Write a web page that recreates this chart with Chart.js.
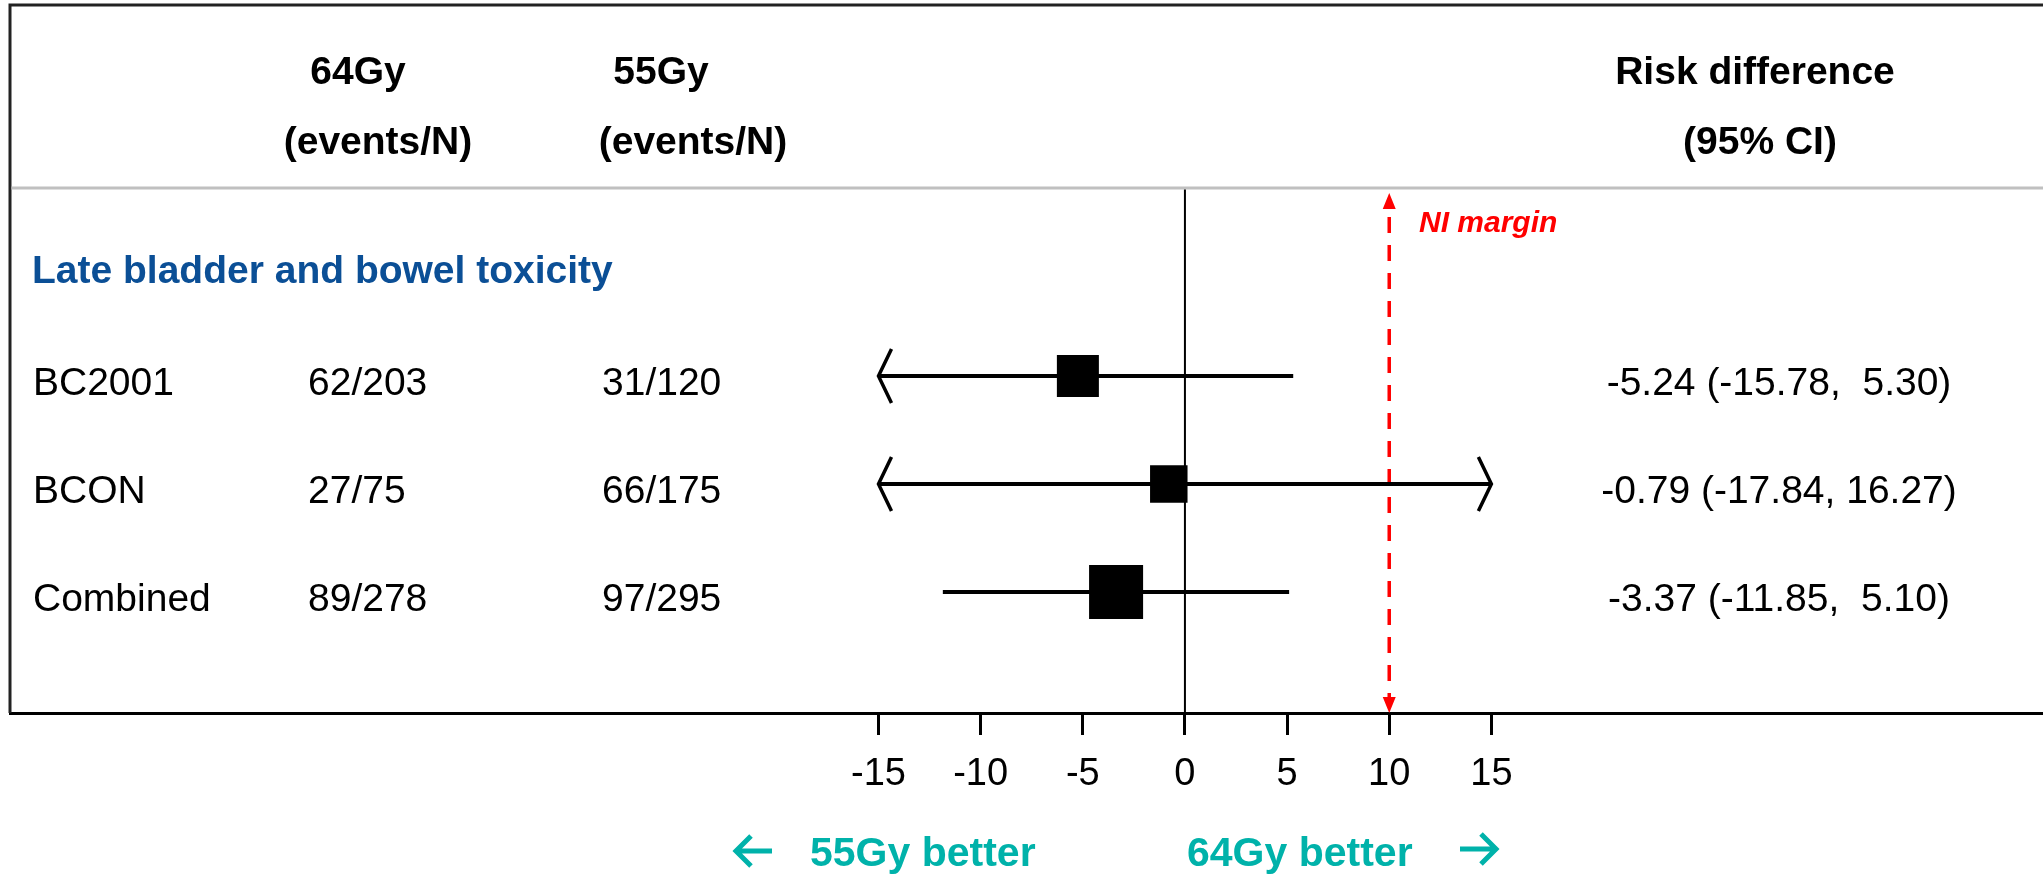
<!DOCTYPE html>
<html lang="en">
<head>
<meta charset="UTF-8">
<title>Late bladder and bowel toxicity - forest plot</title>
<script src="https://cdn.jsdelivr.net/npm/chart.js"></script>
<style>
    body { margin: 0; background: #fff; }
    #wrap { width: 2043px; height: 874px; position: relative; }
</style>
</head>
<body>
<div id="wrap"><canvas id="forestChart"></canvas></div>
<script>
    // data
    const studies = ['BC2001', 'BCON', 'Combined'];
    const events64 = ['62/203', '27/75', '89/278'];
    const events55 = ['31/120', '66/175', '97/295'];
    const riskDiff = [-5.24, -0.79, -3.37];
    const ciLower = [-15.78, -17.84, -11.85];
    const ciUpper = [5.30, 16.27, 5.10];
    const xTicks = [-15, -10, -5, 0, 5, 10, 15];
    const niMargin = 10;
    const axisLimit = 15;

    const FONT = '"Liberation Sans", Arial, sans-serif';
    const BLUE = '#0b4f96';
    const TEAL = '#00b2aa';
    const RULE_Y = 188;

    function clip(v) { return Math.max(-axisLimit, Math.min(axisLimit, v)); }
    function ciLabel(i) {
        return riskDiff[i].toFixed(2) + ' (' + ciLower[i].toFixed(2) + ', ' + ciUpper[i].toFixed(2).padStart(5) + ')';
    }

    const ciSets = studies.map((s, i) => ({
        type: 'line',
        label: s + ' CI',
        data: [{ x: clip(ciLower[i]), y: i }, { x: clip(ciUpper[i]), y: i }],
        borderColor: '#000',
        borderWidth: 4,
        pointRadius: 0,
        order: 2
    }));

    const pointSet = {
        type: 'scatter',
        label: 'Risk difference',
        data: riskDiff.map((v, i) => ({ x: v, y: i })),
        pointStyle: 'rect',
        pointRadius: [29.7, 26.5, 38.2],
        backgroundColor: '#000',
        borderWidth: 0,
        order: 0
    };

    function text(ctx, str, x, y, font, color, align) {
        ctx.font = font;
        ctx.fillStyle = color;
        ctx.textAlign = align || 'left';
        ctx.textBaseline = 'alphabetic';
        ctx.fillText(str, x, y);
    }

    // small teal arrow next to the direction labels
    function arrow(ctx, cx, cy, dir) {
        ctx.save();
        ctx.strokeStyle = TEAL;
        ctx.lineWidth = 5;
        ctx.lineJoin = 'miter';
        const tip = cx + dir * 18, tail = cx - dir * 18;
        ctx.beginPath();
        ctx.moveTo(tail, cy); ctx.lineTo(tip - dir * 2, cy);
        ctx.moveTo(tip - dir * 15, cy - 15); ctx.lineTo(tip, cy); ctx.lineTo(tip - dir * 15, cy + 15);
        ctx.stroke();
        ctx.restore();
    }

    const forestPlugin = {
        id: 'forest',
        beforeDatasetsDraw(chart) {
            const { ctx, chartArea: a, scales: { x } } = chart;
            ctx.save();
            // frame
            ctx.strokeStyle = '#222';
            ctx.lineWidth = 3;
            ctx.beginPath();
            ctx.moveTo(a.right, a.top);
            ctx.lineTo(a.left, a.top);
            ctx.lineTo(a.left, a.bottom);
            ctx.stroke();
            // header rule
            ctx.strokeStyle = '#c0c0c0';
            ctx.beginPath();
            ctx.moveTo(a.left + 1.5, RULE_Y);
            ctx.lineTo(a.right, RULE_Y);
            ctx.stroke();
            // line of no effect
            const x0 = x.getPixelForValue(0);
            ctx.strokeStyle = '#000';
            ctx.lineWidth = 2;
            ctx.beginPath();
            ctx.moveTo(x0, RULE_Y + 1.5);
            ctx.lineTo(x0, a.bottom);
            ctx.stroke();
            // NI margin
            const xn = x.getPixelForValue(niMargin);
            ctx.strokeStyle = '#ff0000';
            ctx.fillStyle = '#ff0000';
            ctx.lineWidth = 3.5;
            ctx.setLineDash([16, 12]);
            ctx.beginPath();
            ctx.moveTo(xn, 217);
            ctx.lineTo(xn, a.bottom - 14);
            ctx.stroke();
            ctx.setLineDash([]);
            ctx.beginPath();
            ctx.moveTo(xn, 193); ctx.lineTo(xn - 6.5, 209); ctx.lineTo(xn + 6.5, 209); ctx.closePath();
            ctx.moveTo(xn, a.bottom); ctx.lineTo(xn - 6.5, a.bottom - 16); ctx.lineTo(xn + 6.5, a.bottom - 16); ctx.closePath();
            ctx.fill();
            ctx.restore();
        },
        afterDatasetsDraw(chart) {
            const { ctx, scales: { x, y } } = chart;
            ctx.save();
            ctx.strokeStyle = '#000';
            ctx.lineWidth = 3.5;
            studies.forEach((s, i) => {
                const py = y.getPixelForValue(i);
                if (ciLower[i] < -axisLimit) {
                    const px = x.getPixelForValue(-axisLimit);
                    ctx.beginPath();
                    ctx.moveTo(px + 13, py - 27); ctx.lineTo(px, py); ctx.lineTo(px + 13, py + 27);
                    ctx.stroke();
                }
                if (ciUpper[i] > axisLimit) {
                    const px = x.getPixelForValue(axisLimit);
                    ctx.beginPath();
                    ctx.moveTo(px - 13, py - 27); ctx.lineTo(px, py); ctx.lineTo(px - 13, py + 27);
                    ctx.stroke();
                }
            });
            ctx.restore();
        },
        afterDraw(chart) {
            const { ctx, scales: { x, y } } = chart;
            ctx.save();
            const bold = 'bold 39px ' + FONT;
            const reg = '39px ' + FONT;
            // column headers
            text(ctx, '64Gy', 358, 84, bold, '#000', 'center');
            text(ctx, '(events/N)', 378, 154, bold, '#000', 'center');
            text(ctx, '55Gy', 661, 84, bold, '#000', 'center');
            text(ctx, '(events/N)', 693, 154, bold, '#000', 'center');
            text(ctx, 'Risk difference', 1755, 84, bold, '#000', 'center');
            text(ctx, '(95% CI)', 1760, 154, bold, '#000', 'center');
            // section
            text(ctx, 'Late bladder and bowel toxicity', 32, 283, bold, BLUE, 'left');
            // rows
            studies.forEach((s, i) => {
                const base = y.getPixelForValue(i) + 19;
                text(ctx, s, 33, base, reg, '#000', 'left');
                text(ctx, events64[i], 308, base, reg, '#000', 'left');
                text(ctx, events55[i], 602, base, reg, '#000', 'left');
                text(ctx, ciLabel(i), 1779, base, reg, '#000', 'center');
            });
            // NI margin label
            text(ctx, 'NI margin', 1419, 232, 'italic bold 30px ' + FONT, '#ff0000', 'left');
            // direction labels
            const dir = 'bold 41px ' + FONT;
            arrow(ctx, 754, 851, -1);
            text(ctx, '55Gy better', 810, 866, dir, TEAL, 'left');
            text(ctx, '64Gy better', 1187, 866, dir, TEAL, 'left');
            arrow(ctx, 1478, 849, 1);
            ctx.restore();
        }
    };

    new Chart(document.getElementById('forestChart'), {
        type: 'scatter',
        data: { datasets: [pointSet, ...ciSets] },
        options: {
            responsive: true,
            maintainAspectRatio: false,
            animation: false,
            layout: { autoPadding: false, padding: { left: 10, top: 5, right: 0, bottom: 0 } },
            plugins: { legend: { display: false }, tooltip: { enabled: false } },
            scales: {
                x: {
                    type: 'linear',
                    min: -57.51,
                    max: 42.0,
                    afterBuildTicks(scale) { scale.ticks = xTicks.map(v => ({ value: v })); },
                    afterFit(scale) { scale.height = 161; },
                    grid: { drawOnChartArea: false, drawTicks: true, tickLength: 22, tickWidth: 3, tickColor: '#000', lineWidth: 3 },
                    border: { display: true, color: '#000', width: 3 },
                    ticks: {
                        autoSkip: false,
                        maxRotation: 0,
                        padding: 17,
                        color: '#000',
                        font: { family: FONT, size: 38 }
                    }
                },
                y: {
                    type: 'linear',
                    display: false,
                    reverse: true,
                    min: -3.435,
                    max: 3.12
                }
            }
        },
        plugins: [forestPlugin]
    });
</script>
</body>
</html>
